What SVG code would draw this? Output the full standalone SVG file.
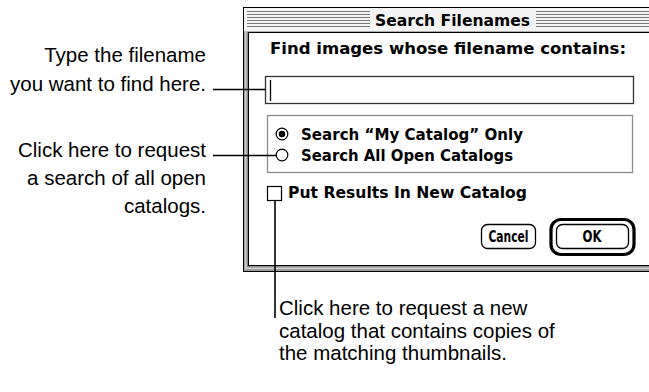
<svg xmlns="http://www.w3.org/2000/svg" width="649" height="392" viewBox="0 0 649 392">
  <style>
    .note { font-family: "Liberation Sans", Arial, sans-serif; font-size: 20.5px; fill: #000; }
    .ui { font-family: "DejaVu Sans", "Liberation Sans", sans-serif; font-weight: bold; font-size: 16px; fill: #000; }
    .lead { stroke: #000; stroke-width: 1.6; fill: none; }
    .stripe { stroke: #7a7a7a; stroke-width: 1; }
  </style>
  <rect width="649" height="392" fill="#fff"/>

  <!-- dialog window -->
  <g id="window">
    <rect x="243.5" y="7.5" width="420" height="264" fill="#c4c4c4" stroke="#000"/>
    <rect x="244" y="8" width="410" height="23" fill="#f4f4f4"/>
    <g id="title-stripes">
      <line class="stripe" x1="247" y1="11.5" x2="370" y2="11.5"/>
      <line class="stripe" x1="247" y1="14.5" x2="370" y2="14.5"/>
      <line class="stripe" x1="247" y1="17.5" x2="370" y2="17.5"/>
      <line class="stripe" x1="247" y1="20.5" x2="370" y2="20.5"/>
      <line class="stripe" x1="247" y1="23.5" x2="370" y2="23.5"/>
      <line class="stripe" x1="247" y1="26.5" x2="370" y2="26.5"/>
      <line class="stripe" x1="536" y1="11.5" x2="649" y2="11.5"/>
      <line class="stripe" x1="536" y1="14.5" x2="649" y2="14.5"/>
      <line class="stripe" x1="536" y1="17.5" x2="649" y2="17.5"/>
      <line class="stripe" x1="536" y1="20.5" x2="649" y2="20.5"/>
      <line class="stripe" x1="536" y1="23.5" x2="649" y2="23.5"/>
      <line class="stripe" x1="536" y1="26.5" x2="649" y2="26.5"/>
    </g>
    <text class="ui" x="375" y="26" textLength="155" lengthAdjust="spacingAndGlyphs">Search Filenames</text>
    <!-- bevelled frame around content -->
    <rect x="244" y="31" width="410" height="240" fill="#9c9c9c"/>
    <rect x="245" y="31" width="410" height="238" fill="#d2d2d2"/>
    <rect x="246.5" y="31.5" width="420" height="236" fill="#8a8a8a" stroke="none"/>
    <rect x="248.5" y="32.5" width="420" height="233" fill="#fff" stroke="#000"/>
  </g>

  <g id="prompt">
    <text class="ui" x="270" y="54" textLength="356" lengthAdjust="spacingAndGlyphs">Find images whose filename contains:</text>
  </g>

  <g id="filename-field">
    <rect x="265.5" y="76.5" width="368" height="27" fill="#fff" stroke="#333" stroke-width="1.3"/>
    <line x1="270.5" y1="80" x2="270.5" y2="101" stroke="#000" stroke-width="1.3"/>
  </g>

  <g id="scope-group">
    <rect x="267.5" y="115.5" width="365" height="57" fill="none" stroke="#8a8a8a" stroke-width="1.3"/>
    <circle cx="282" cy="134" r="5.8" fill="#fff" stroke="#000" stroke-width="1.2"/>
    <circle cx="282" cy="134" r="3.2" fill="#000"/>
    <text class="ui" x="301" y="139.5" textLength="222" lengthAdjust="spacingAndGlyphs">Search “My Catalog” Only</text>
    <circle cx="282" cy="155" r="5.8" fill="#fff" stroke="#000" stroke-width="1.2"/>
    <text class="ui" x="301" y="160.5" textLength="212" lengthAdjust="spacingAndGlyphs">Search All Open Catalogs</text>
  </g>

  <g id="new-catalog-option">
    <rect x="267.5" y="186.5" width="14" height="14" fill="#fff" stroke="#000" stroke-width="1.2"/>
    <text class="ui" x="288" y="198" textLength="239" lengthAdjust="spacingAndGlyphs">Put Results In New Catalog</text>
  </g>

  <g id="cancel-button">
    <rect x="481.5" y="224.5" width="54" height="24" rx="6" fill="#fff" stroke="#000" stroke-width="1.3"/>
    <text class="ui" x="508.5" y="242" text-anchor="middle" textLength="40" lengthAdjust="spacingAndGlyphs">Cancel</text>
  </g>

  <g id="ok-button">
    <rect x="551" y="219.5" width="83" height="35" rx="10" fill="none" stroke="#000" stroke-width="3.2"/>
    <rect x="556.5" y="224.5" width="72" height="24" rx="6" fill="#fff" stroke="#000" stroke-width="1.3"/>
    <text class="ui" x="592" y="242" text-anchor="middle" textLength="19" lengthAdjust="spacingAndGlyphs">OK</text>
  </g>

  <!-- leader lines -->
  <g id="connectors">
    <line class="lead" x1="213" y1="89.5" x2="265.5" y2="89.5"/>
    <line class="lead" x1="213" y1="155.5" x2="276.5" y2="155.5"/>
    <line class="lead" x1="275" y1="200.5" x2="275" y2="318"/>
  </g>

  <g id="note-field">
    <text class="note" text-anchor="end" x="206" y="62">Type the filename</text>
    <text class="note" text-anchor="end" x="206" y="91">you want to find here.</text>
  </g>
  <g id="note-scope">
    <text class="note" text-anchor="end" x="206" y="157">Click here to request</text>
    <text class="note" text-anchor="end" x="206" y="185">a search of all open</text>
    <text class="note" text-anchor="end" x="206" y="213">catalogs.</text>
  </g>
  <g id="note-new-catalog">
    <text class="note" x="279" y="315">Click here to request a new</text>
    <text class="note" x="279" y="338">catalog that contains copies of</text>
    <text class="note" x="279" y="360">the matching thumbnails.</text>
  </g>
</svg>
